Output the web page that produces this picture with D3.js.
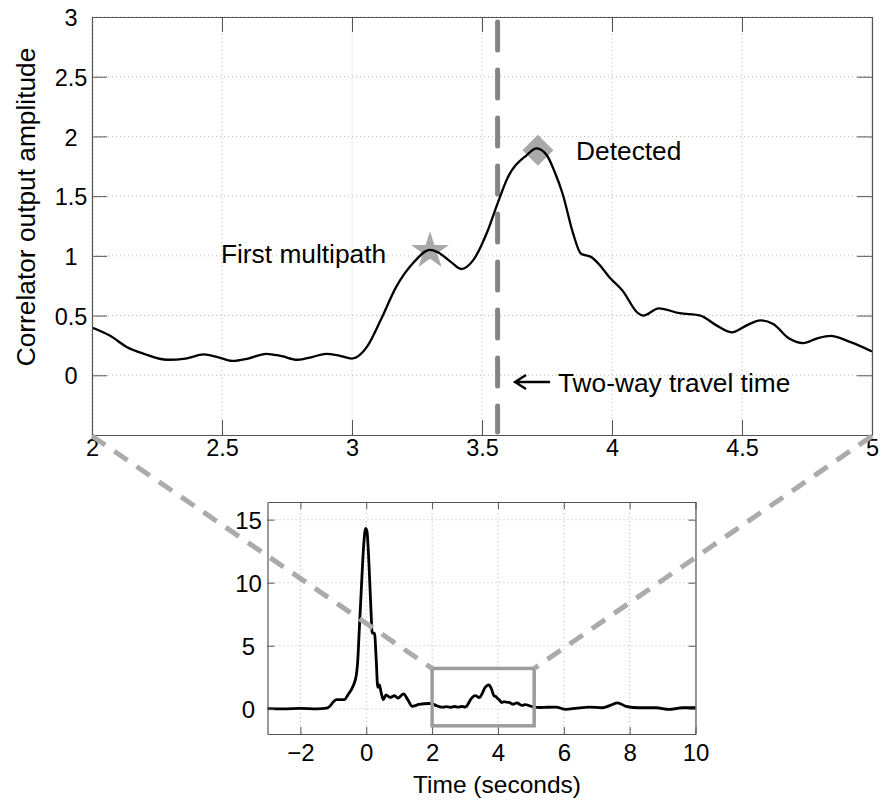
<!DOCTYPE html>
<html>
<head>
<meta charset="utf-8">
<script src="https://cdn.jsdelivr.net/npm/d3@7"></script>
<style>
  html, body { margin: 0; padding: 0; background: #fff; }
  svg { display: block; }
  text { font-family: "Liberation Sans", Arial, Helvetica, sans-serif; fill: #000; }
</style>
</head>
<body>
<svg id="chart" width="881" height="801"></svg>
<script>
// ---------------- DATA ----------------
// Zoomed view (2 – 5 s)
const zoomTime = [2.0, 2.07, 2.135, 2.2, 2.29, 2.36, 2.43, 2.48, 2.54, 2.6, 2.67, 2.73, 2.79, 2.85, 2.9, 2.95, 3.0, 3.03, 3.058, 3.11, 3.17, 3.235, 3.3, 3.33, 3.38, 3.42, 3.465, 3.52, 3.56, 3.6, 3.67, 3.71, 3.75, 3.78, 3.81, 3.85, 3.88, 3.92, 3.95, 3.99, 4.04, 4.1, 4.12, 4.18, 4.26, 4.34, 4.4, 4.46, 4.52, 4.57, 4.62, 4.68, 4.735, 4.79, 4.84, 4.915, 5.0];
const zoomAmp  = [0.40, 0.33, 0.235, 0.18, 0.13, 0.14, 0.175, 0.155, 0.12, 0.14, 0.18, 0.16, 0.13, 0.155, 0.18, 0.165, 0.14, 0.17, 0.24, 0.46, 0.74, 0.94, 1.05, 1.03, 0.95, 0.89, 0.96, 1.2, 1.44, 1.66, 1.84, 1.90, 1.84, 1.7, 1.52, 1.19, 1.02, 0.99, 0.93, 0.82, 0.71, 0.52, 0.50, 0.56, 0.52, 0.50, 0.42, 0.36, 0.42, 0.46, 0.43, 0.31, 0.27, 0.31, 0.33, 0.28, 0.20];

// Full signal outside the zoomed window
const preTime  = [-3.0, -2.5, -2.0, -1.5, -1.2, -1.11, -0.98, -0.91, -0.75, -0.66, -0.56, -0.4, -0.3, -0.25, -0.22, -0.15, -0.08, -0.02, 0.02, 0.08, 0.14, 0.18, 0.25, 0.3, 0.35, 0.4, 0.45, 0.52, 0.6, 0.73, 0.86, 0.96, 1.13, 1.26, 1.39, 1.6, 1.91];
const preAmp   = [0.02, 0.0, 0.03, 0.0, 0.05, 0.2, 0.6, 0.73, 0.72, 0.73, 1.1, 1.8, 2.7, 4.2, 5.85, 9.5, 12.9, 14.3, 14.1, 11.6, 8.0, 6.0, 6.0, 4.0, 1.7, 1.9, 1.3, 0.73, 1.1, 0.9, 1.05, 0.85, 1.18, 0.73, 0.2, 0.34, 0.42];
const postTime = [5.26, 5.5, 5.76, 6.06, 6.4, 6.77, 7.17, 7.43, 7.63, 7.89, 8.29, 8.8, 9.2, 9.6, 10.0];
const postAmp  = [0.10, 0.12, 0.13, -0.05, 0.05, 0.13, 0.08, 0.29, 0.47, 0.2, 0.08, 0.08, -0.05, 0.08, 0.08];

// Ticks
const topXTicks = [2, 2.5, 3, 3.5, 4, 4.5, 5];
const topYTicks = [0, 0.5, 1, 1.5, 2, 2.5, 3];
const insetXTicks = [-2, 0, 2, 4, 6, 8, 10];
const insetYTicks = [0, 5, 10, 15];

// Markers / annotations
const firstMultipath = {t: 3.3, a: 1.04, label: "First multipath", lt: 2.496, la: 0.94};
const detected = {t: 3.715, a: 1.885, label: "Detected", lt: 3.862, la: 1.805};
const travelTime = 3.56;
const travelLabel = {label: "Two-way travel time", lt: 3.792, la: -0.14, arrowFrom: 3.762, arrowTo: 3.627, arrowA: -0.056};
const zoomBox = {t0: 2, t1: 5.1, a0: -1.35, a1: 3.2};

// ---------------- DRAWING ----------------
const svg = d3.select("#chart");
const FONT_TICK = 23.5, FONT_LABEL = 26.3;

// main chart scales
const x = d3.scaleLinear().domain([2, 5]).range([92, 872]);
const y = d3.scaleLinear().domain([-0.5, 3]).range([435, 17]);
// inset scales
const xi = d3.scaleLinear().domain([-3, 10]).range([267.5, 695.5]);
const yi = d3.scaleLinear().domain([-2, 16.4]).range([734, 502]);

const fmt = d3.format("~g");

function drawGrid(g, xs, ys, xt, yt) {
  const [x0, x1] = xs.range(), [y0, y1] = ys.range();
  g.selectAll("line.gx").data(xt).join("line")
    .attr("x1", d => xs(d)).attr("x2", d => xs(d)).attr("y1", y0).attr("y2", y1)
    .attr("stroke", "#b8b8b8").attr("stroke-width", 1).attr("stroke-dasharray", "1,3");
  g.selectAll("line.gy").data(yt).join("line")
    .attr("x1", x0).attr("x2", x1).attr("y1", d => ys(d)).attr("y2", d => ys(d))
    .attr("stroke", "#b8b8b8").attr("stroke-width", 1).attr("stroke-dasharray", "1,3");
}

function drawAxes(g, xs, ys, xt, yt, tick, fontSize, xPad, yLabelOffset) {
  const [x0, x1] = xs.range(), [y0, y1] = ys.range();
  const bottom = g.append("g").attr("transform", `translate(0,${y0})`)
    .call(d3.axisBottom(xs).tickValues(xt).tickFormat(fmt).tickSize(-tick).tickSizeOuter(0).tickPadding(xPad));
  const top = g.append("g").attr("transform", `translate(0,${y1})`)
    .call(d3.axisTop(xs).tickValues(xt).tickFormat("").tickSize(-tick).tickSizeOuter(0));
  const left = g.append("g").attr("transform", `translate(${x0},0)`)
    .call(d3.axisLeft(ys).tickValues(yt).tickFormat(fmt).tickSize(-tick).tickSizeOuter(0));
  const right = g.append("g").attr("transform", `translate(${x1},0)`)
    .call(d3.axisRight(ys).tickValues(yt).tickFormat("").tickSize(-tick).tickSizeOuter(0));
  [bottom, top, left, right].forEach(a => {
    a.select(".domain").attr("stroke", "#555").attr("stroke-width", 1.2);
    a.selectAll(".tick line").attr("stroke", "#555").attr("stroke-width", 1);
    a.selectAll("text").attr("font-size", fontSize).attr("font-family", null).attr("fill", "#000");
  });
  left.selectAll("text").attr("text-anchor", "middle").attr("x", -yLabelOffset).attr("dy", "0.37em");
}

// ---- main chart ----
const main = svg.append("g");
drawGrid(main.append("g"), x, y, topXTicks, topYTicks);

// markers
main.append("path")
  .attr("d", d3.symbol(d3.symbolStar, 440)())
  .attr("transform", `translate(${x(firstMultipath.t)},${y(firstMultipath.a)})`)
  .attr("fill", "#a9a9a9");
main.append("path")
  .attr("d", d3.symbol(d3.symbolSquare, 480)())
  .attr("transform", `translate(${x(detected.t)},${y(detected.a)}) rotate(45)`)
  .attr("fill", "#a9a9a9");

// travel-time dashed line
main.append("line")
  .attr("x1", x(travelTime)).attr("x2", x(travelTime))
  .attr("y1", y(3) + 5).attr("y2", y(-0.5) - 3)
  .attr("stroke", "#848484").attr("stroke-width", 5)
  .attr("stroke-linecap", "round").attr("stroke-dasharray", "28,20");

// curve
svg.append("clipPath").attr("id", "clipMain").append("rect")
  .attr("x", 92).attr("y", 17).attr("width", 780).attr("height", 418);
const zoomData = zoomTime.map((t, i) => [t, zoomAmp[i]]);
main.append("path")
  .datum(zoomData)
  .attr("clip-path", "url(#clipMain)")
  .attr("fill", "none").attr("stroke", "#000").attr("stroke-width", 2.3)
  .attr("stroke-linejoin", "round")
  .attr("d", d3.line().x(d => x(d[0])).y(d => y(d[1])).curve(d3.curveMonotoneX));

drawAxes(main.append("g"), x, y, topXTicks, topYTicks, 15, FONT_TICK, 4, 21);

// y label
main.append("text")
  .attr("transform", `translate(35,207) rotate(-90)`)
  .attr("text-anchor", "middle")
  .attr("font-size", FONT_LABEL)
  .text("Correlator output amplitude");

// annotations
main.append("text").attr("x", x(firstMultipath.lt)).attr("y", y(firstMultipath.la))
  .attr("font-size", FONT_LABEL).text(firstMultipath.label);
main.append("text").attr("x", x(detected.lt)).attr("y", y(detected.la))
  .attr("font-size", FONT_LABEL).text(detected.label);
main.append("text").attr("x", x(travelLabel.lt)).attr("y", y(travelLabel.la))
  .attr("font-size", FONT_LABEL).text(travelLabel.label);
// arrow
const ax0 = x(travelLabel.arrowFrom), ax1 = x(travelLabel.arrowTo), ay = y(travelLabel.arrowA);
main.append("path")
  .attr("d", `M${ax0},${ay} L${ax1 + 1},${ay} M${ax1 + 11},${ay - 7} L${ax1},${ay} L${ax1 + 11},${ay + 7}`)
  .attr("fill", "none").attr("stroke", "#000").attr("stroke-width", 2.4)
  .attr("stroke-linejoin", "miter");

// ---- inset ----
const inset = svg.append("g");
drawGrid(inset.append("g"), xi, yi, insetXTicks, insetYTicks);
const fullData = preTime.map((t, i) => [t, preAmp[i]])
  .concat(zoomData)
  .concat(postTime.map((t, i) => [t, postAmp[i]]));
inset.append("path")
  .datum(fullData)
  .attr("fill", "none").attr("stroke", "#000").attr("stroke-width", 2.8)
  .attr("stroke-linejoin", "round")
  .attr("d", d3.line().x(d => xi(d[0])).y(d => yi(d[1])).curve(d3.curveMonotoneX));

drawAxes(inset.append("g"), xi, yi, insetXTicks, insetYTicks, 7, 24, 10, 19);

inset.append("text")
  .attr("x", 497).attr("y", 793)
  .attr("text-anchor", "middle")
  .attr("font-size", 24.5)
  .text("Time (seconds)");

// zoom box
inset.append("rect")
  .attr("x", xi(zoomBox.t0)).attr("y", yi(zoomBox.a1))
  .attr("width", xi(zoomBox.t1) - xi(zoomBox.t0))
  .attr("height", yi(zoomBox.a0) - yi(zoomBox.a1))
  .attr("fill", "none").attr("stroke", "#9c9c9c").attr("stroke-width", 3.5);

// connectors
const conn = svg.append("g").attr("stroke", "#ababab").attr("stroke-width", 5)
  .attr("stroke-dasharray", "16,11").attr("fill", "none");
conn.append("line")
  .attr("x1", x(2)).attr("y1", y(-0.5) + 1)
  .attr("x2", xi(zoomBox.t0)).attr("y2", yi(zoomBox.a1));
conn.append("line")
  .attr("x1", x(5)).attr("y1", y(-0.5) + 1)
  .attr("x2", xi(zoomBox.t1)).attr("y2", yi(zoomBox.a1));
</script>
</body>
</html>
